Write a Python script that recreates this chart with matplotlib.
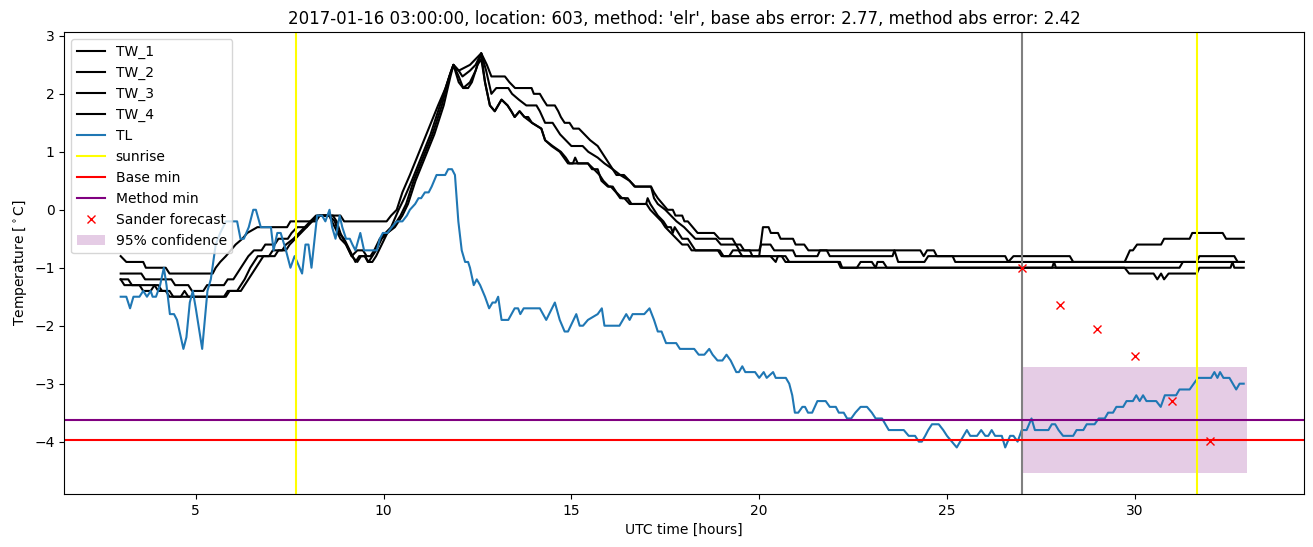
import matplotlib
matplotlib.use("Agg")
import matplotlib.pyplot as plt

# TW sensors: (hour, value) pairs
tw1_h = [3.0, 3.15, 3.6, 3.67, 4.2, 4.3, 5.45, 5.53, 5.65, 5.8, 5.93, 6.06, 6.24, 6.37, 6.64, 7.43, 7.52, 8.2, 8.3, 8.85,
         8.95, 10.08, 10.2, 10.35, 10.5, 10.7, 10.95, 11.2, 11.45, 11.65, 11.8, 11.86, 12.0, 12.3, 12.45, 12.6, 12.75,
         12.87, 13.23, 13.35, 13.5, 13.94, 14.0, 14.16, 14.25, 14.35, 14.56, 14.65, 14.72, 14.82, 14.95, 15.05, 15.2,
         15.35, 15.5, 15.7, 15.8, 15.9, 16.0, 16.1, 16.2, 16.4, 16.55, 16.68, 17.12, 17.2, 17.3, 17.43, 17.56, 17.7,
         17.77, 17.95, 18.01, 18.1, 18.23, 18.36, 18.8, 18.94, 19.29, 19.38, 19.5, 19.6, 19.75, 19.82, 20.0, 20.1,
         20.25, 20.31, 20.5, 20.57, 20.9, 20.97, 21.2, 21.31, 24.29, 24.38, 24.47, 24.65, 24.73, 26.55, 26.63, 26.77,
         28.27, 28.36, 29.73, 29.87, 29.95, 30.06, 30.7, 30.78, 31.46, 31.53, 32.34, 32.43, 32.9]
tw1_v = [-0.8, -0.9, -0.9, -1.0, -1.0, -1.1, -1.1, -1.0, -0.9, -0.8, -0.7, -0.6, -0.5, -0.4, -0.3, -0.3, -0.2, -0.2, -0.1, -0.1,
         -0.2, -0.2, -0.1, 0.0, 0.3, 0.6, 1.0, 1.4, 1.8, 2.1, 2.4, 2.5, 2.4, 2.5, 2.6, 2.7, 2.5,
         2.3, 2.3, 2.2, 2.1, 2.1, 2.0, 2.0, 1.9, 1.8, 1.8, 1.7, 1.6, 1.5, 1.5, 1.4, 1.4,
         1.3, 1.2, 1.1, 1.0, 0.9, 0.8, 0.7, 0.6, 0.6, 0.5, 0.4, 0.4, 0.3, 0.2, 0.1, 0.0, 0.0,
         -0.1, -0.1, -0.2, -0.2, -0.3, -0.4, -0.4, -0.5, -0.5, -0.6, -0.6, -0.7, -0.7, -0.8, -0.8, -0.3,
         -0.3, -0.4, -0.4, -0.5, -0.5, -0.6, -0.6, -0.7, -0.7, -0.8, -0.7, -0.7, -0.8, -0.8, -0.9, -0.8,
         -0.8, -0.9, -0.9, -0.7, -0.7, -0.6, -0.6, -0.5, -0.5, -0.4, -0.4, -0.5, -0.5]

tw2_h = [3.0, 3.55, 3.65, 4.35, 4.45, 4.8, 4.9, 5.2, 5.3, 5.75, 5.85, 6.0, 6.1, 6.2, 6.3, 6.4, 6.55, 6.75, 6.85, 7.1,
         7.2, 7.45, 7.55, 7.7, 7.95, 8.05, 8.2, 8.65, 8.75, 8.85, 9.0, 9.15, 9.3, 9.45, 9.55, 9.65, 9.75, 9.9, 10.05,
         10.2, 10.4, 10.55, 10.75, 11.0, 11.25, 11.5, 11.7, 11.86, 12.0, 12.1, 12.3, 12.45, 12.6, 12.73, 12.87, 13.0,
         13.32, 13.42, 13.6, 13.8, 14.07, 14.16, 14.3, 14.5, 14.6, 14.7, 14.85, 15.0, 15.3, 15.45, 15.7, 15.88, 16.1,
         16.3, 16.55, 16.7, 17.12, 17.2, 17.3, 17.5, 17.65, 17.8, 18.0, 18.15, 18.3, 18.85, 18.98, 19.38, 19.47, 20.0,
         20.05, 20.3, 20.4, 20.9, 20.97, 21.55, 21.62, 21.8, 21.88, 23.55, 23.6, 23.65, 23.7, 24.4, 24.5, 25.15, 25.22,
         31.65, 31.72, 32.65, 32.74, 32.9]
tw2_v = [-1.1, -1.1, -1.2, -1.2, -1.3, -1.3, -1.4, -1.4, -1.3, -1.3, -1.2, -1.2, -1.1, -1.0, -0.9, -0.8, -0.7, -0.7, -0.6, -0.6,
         -0.5, -0.5, -0.4, -0.3, -0.3, -0.2, -0.1, -0.1, -0.2, -0.4, -0.6, -0.8, -0.7, -0.7, -0.8, -0.8, -0.7, -0.5, -0.4,
         -0.3, 0.0, 0.2, 0.5, 0.9, 1.3, 1.8, 2.2, 2.5, 2.4, 2.3, 2.4, 2.5, 2.7, 2.4, 2.0, 2.1,
         2.1, 2.0, 1.9, 1.8, 1.8, 1.7, 1.5, 1.5, 1.4, 1.3, 1.2, 1.1, 1.1, 1.0, 0.9, 0.8, 0.7,
         0.6, 0.5, 0.4, 0.4, 0.2, 0.1, 0.0, -0.1, -0.2, -0.3, -0.4, -0.5, -0.5, -0.6, -0.6, -0.7, -0.7,
         -0.6, -0.6, -0.7, -0.7, -0.8, -0.8, -0.7, -0.7, -0.8, -0.8, -0.7, -0.8, -0.9, -0.9, -0.8, -0.8, -0.9,
         -0.9, -0.8, -0.8, -0.9, -0.9]

tw3_h = [3.0, 3.2, 3.3, 4.0, 4.1, 4.3, 4.4, 5.75, 5.85, 6.1, 6.2, 6.3, 6.45, 6.55, 6.65, 6.95, 7.05, 7.3, 7.4, 7.6,
         7.75, 7.9, 8.05, 8.25, 8.55, 8.7, 8.8, 8.95, 9.1, 9.25, 9.35, 9.5, 9.6, 9.7, 9.8, 9.95, 10.1, 10.25, 10.45,
         10.6, 10.8, 11.05, 11.3, 11.55, 11.75, 11.86, 12.0, 12.12, 12.3, 12.45, 12.6, 12.7, 12.83, 12.96, 13.14, 13.3,
         13.4, 13.49, 13.62, 13.75, 13.85, 13.95, 14.2, 14.3, 14.47, 14.69, 14.8, 14.91, 15.04, 15.1, 15.17, 15.44,
         15.55, 15.7, 15.8, 15.97, 16.05, 16.19, 16.3, 16.41, 16.55, 16.99, 17.03, 17.1, 17.2, 17.3, 17.45, 17.55,
         17.65, 17.7, 17.75, 17.85, 17.95, 18.1, 18.2, 18.3, 18.95, 19.05, 19.2, 19.3, 19.45, 19.55, 20.3, 20.44,
         20.5, 20.6, 20.7, 22.1, 22.17, 22.6, 22.7, 23.0, 23.1, 23.15, 23.3, 23.4, 29.73, 29.85, 30.5, 30.6, 30.7,
         30.78, 30.9, 31.65, 31.72, 32.55, 32.6, 32.65, 32.9]
tw3_v = [-1.2, -1.2, -1.3, -1.3, -1.4, -1.4, -1.5, -1.5, -1.4, -1.4, -1.3, -1.2, -1.0, -0.9, -0.8, -0.8, -0.7, -0.7, -0.6, -0.5,
         -0.4, -0.3, -0.2, -0.1, -0.1, -0.2, -0.4, -0.5, -0.7, -0.9, -0.8, -0.8, -0.9, -0.8, -0.7, -0.5, -0.4, -0.3, -0.1,
         0.1, 0.5, 0.9, 1.3, 1.8, 2.3, 2.5, 2.3, 2.1, 2.2, 2.4, 2.7, 2.2, 1.8, 1.7, 1.9, 1.8,
         1.7, 1.6, 1.7, 1.6, 1.6, 1.5, 1.4, 1.2, 1.1, 1.0, 0.9, 0.8, 0.8, 0.9, 0.8, 0.8,
         0.7, 0.7, 0.5, 0.4, 0.4, 0.3, 0.2, 0.2, 0.1, 0.1, 0.2, 0.1, 0.0, -0.1, -0.2, -0.3,
         -0.3, -0.4, -0.3, -0.4, -0.5, -0.5, -0.6, -0.7, -0.7, -0.8, -0.8, -0.7, -0.7, -0.8, -0.8, -0.9,
         -0.8, -0.8, -0.9, -0.9, -1.0, -1.0, -0.9, -0.9, -1.0, -0.9, -0.9, -1.0, -1.0, -1.1, -1.1, -1.2, -1.1,
         -1.2, -1.1, -1.1, -1.0, -1.0, -0.9, -1.0, -1.0]

tw4_h = [3.0, 3.1, 3.5, 3.6, 3.8, 3.9, 4.0, 4.2, 4.3, 4.6, 4.7, 4.8, 5.8, 5.9, 6.2, 6.3, 6.4, 6.5, 6.6, 6.7,
         6.8, 7.1, 7.2, 7.4, 7.5, 7.65, 7.8, 7.95, 8.1, 8.3, 8.55, 8.7, 8.85, 9.0, 9.15, 9.3, 9.4, 9.5, 9.58, 9.7,
         9.8, 9.95, 10.1, 10.3, 10.5, 10.65, 10.85, 11.1, 11.35, 11.6, 11.78, 11.86, 12.0, 12.12, 12.25, 12.35, 12.5,
         12.6, 12.7, 12.83, 12.96, 13.14, 13.3, 13.4, 13.49, 13.62, 13.75, 13.95, 14.2, 14.3, 14.5, 14.72, 14.85,
         14.95, 15.44, 15.6, 15.75, 15.85, 16.0, 16.1, 16.2, 16.35, 16.5, 16.6, 17.0, 17.1, 17.25, 17.4, 17.5, 17.65,
         17.8, 17.95, 18.1, 18.2, 18.9, 19.0, 20.7, 20.8, 22.15, 22.21, 27.8, 27.85, 27.9, 31.19, 31.28, 32.9]
tw4_v = [-1.2, -1.3, -1.3, -1.4, -1.4, -1.3, -1.4, -1.4, -1.5, -1.5, -1.4, -1.5, -1.5, -1.4, -1.4, -1.3, -1.2, -1.1, -1.0, -0.9,
         -0.8, -0.8, -0.7, -0.7, -0.6, -0.5, -0.4, -0.3, -0.2, -0.1, -0.1, -0.3, -0.5, -0.6, -0.8, -0.9, -0.8, -0.8, -0.9, -0.9,
         -0.8, -0.6, -0.4, -0.3, -0.1, 0.1, 0.5, 0.9, 1.3, 1.8, 2.3, 2.5, 2.2, 2.1, 2.1, 2.2, 2.5,
         2.6, 2.2, 1.8, 1.7, 1.9, 1.8, 1.7, 1.6, 1.7, 1.6, 1.5, 1.4, 1.2, 1.1, 1.0, 0.9,
         0.8, 0.8, 0.7, 0.6, 0.5, 0.4, 0.4, 0.3, 0.2, 0.2, 0.1, 0.1, 0.0, -0.1, -0.2, -0.3, -0.4,
         -0.5, -0.6, -0.6, -0.7, -0.7, -0.8, -0.8, -0.9, -0.9, -1.0, -1.0, -0.9, -1.0, -1.0, -0.9, -0.9]

# TL (air temperature)
tl_h = [3.0, 3.15, 3.25, 3.34, 3.5, 3.6, 3.7, 3.8, 3.85, 3.94, 4.05, 4.15, 4.22, 4.31, 4.42, 4.5, 4.67, 4.75, 4.84, 4.92,
        5.0, 5.17, 5.31, 5.4, 5.53, 5.65, 5.8, 6.1, 6.19, 6.28, 6.41, 6.53, 6.6, 6.73, 6.9, 7.0, 7.07, 7.17, 7.26, 7.4,
        7.52, 7.63, 7.7, 7.83, 7.92, 8.0, 8.08, 8.23, 8.36, 8.45, 8.56, 8.63, 8.72, 8.83, 8.9, 9.0, 9.1, 9.17, 9.25,
        9.38, 9.48, 9.57, 9.82, 9.9, 9.98, 10.1, 10.22, 10.35, 10.5, 10.62, 10.7, 10.84, 10.93, 11.0, 11.1, 11.2,
        11.28, 11.41, 11.64, 11.72, 11.82, 11.9, 11.99, 12.08, 12.17, 12.25, 12.3, 12.4, 12.48, 12.57, 12.7, 12.81,
        12.9, 12.98, 13.05, 13.14, 13.32, 13.49, 13.58, 13.64, 13.73, 14.16, 14.33, 14.56, 14.69, 14.82, 14.91,
        15.13, 15.22, 15.31, 15.44, 15.7, 15.81, 15.88, 16.28, 16.46, 16.55, 16.63, 16.94, 17.08, 17.2, 17.3, 17.4,
        17.52, 17.79, 17.89, 18.27, 18.39, 18.54, 18.67, 18.76, 18.89, 19.02, 19.13, 19.24, 19.39, 19.46, 19.55,
        19.63, 19.89, 20.0, 20.12, 20.2, 20.37, 20.44, 20.71, 20.8, 20.88, 20.95, 21.04, 21.15, 21.22, 21.3, 21.41,
        21.55, 21.77, 21.88, 22.04, 22.12, 22.25, 22.34, 22.45, 22.56, 22.7, 22.87, 23.0, 23.1, 23.27, 23.45, 23.85,
        23.98, 24.15, 24.25, 24.33, 24.42, 24.5, 24.6, 24.78, 24.9, 25.0, 25.13, 25.26, 25.35, 25.53, 25.62, 25.8,
        25.91, 26.02, 26.1, 26.19, 26.28, 26.46, 26.55, 26.68, 26.77, 26.88, 26.99, 27.12, 27.25, 27.34, 27.7, 27.79,
        27.88, 27.97, 28.09, 28.36, 28.45, 28.63, 28.72, 28.93, 29.04, 29.2, 29.29, 29.42, 29.51, 29.69, 29.78, 29.95,
        30.04, 30.13, 30.22, 30.31, 30.57, 30.69, 30.8, 31.1, 31.19, 31.46, 31.57, 31.68, 32.03, 32.12, 32.2, 32.27,
        32.36, 32.52, 32.7, 32.79, 32.9]
tl_v = [-1.5, -1.5, -1.7, -1.5, -1.5, -1.4, -1.5, -1.4, -1.5, -1.5, -1.3, -1.0, -1.3, -1.8, -1.8, -1.9, -2.4, -2.2, -1.6, -1.4,
        -1.7, -2.4, -1.4, -1.2, -0.6, -0.4, -0.2, -0.2, -0.5, -0.5, -0.3, 0.0, 0.0, -0.3, -0.3, -0.3, -0.7, -0.4, -0.4, -0.7,
        -1.0, -0.8, -0.9, -1.1, -0.6, -0.6, -1.0, -0.1, -0.1, -0.2, 0.0, -0.3, -0.5, -0.1, -0.3, -0.5, -0.5, -0.6, -0.7,
        -0.4, -0.7, -0.7, -0.7, -0.5, -0.4, -0.4, -0.3, -0.2, -0.2, -0.1, 0.0, 0.1, 0.2, 0.2, 0.3, 0.3,
        0.4, 0.6, 0.6, 0.7, 0.7, 0.6, -0.2, -0.7, -0.9, -0.9, -1.0, -1.3, -1.2, -1.3, -1.5, -1.7,
        -1.6, -1.6, -1.5, -1.9, -1.9, -1.7, -1.7, -1.8, -1.7, -1.7, -1.9, -1.6, -1.9, -2.1, -2.1,
        -1.8, -2.0, -2.0, -1.9, -1.8, -1.7, -2.0, -2.0, -1.8, -1.9, -1.8, -1.8, -1.7, -1.9, -2.1, -2.1,
        -2.3, -2.3, -2.4, -2.4, -2.5, -2.5, -2.4, -2.5, -2.6, -2.6, -2.5, -2.6, -2.8, -2.8, -2.7,
        -2.8, -2.8, -2.9, -2.8, -2.9, -2.8, -2.9, -2.9, -3.0, -3.2, -3.5, -3.5, -3.4, -3.4, -3.5, -3.5,
        -3.3, -3.3, -3.4, -3.4, -3.5, -3.5, -3.6, -3.6, -3.5, -3.4, -3.4, -3.5, -3.6, -3.6, -3.8, -3.8,
        -3.9, -3.9, -4.0, -4.0, -3.9, -3.8, -3.7, -3.7, -3.8, -3.9, -4.0, -4.1, -4.0, -3.8, -3.9, -3.9,
        -3.8, -3.9, -3.9, -3.8, -3.9, -3.9, -4.1, -3.9, -3.9, -4.0, -3.8, -3.8, -3.6, -3.8, -3.8, -3.7,
        -3.7, -3.8, -3.9, -3.9, -3.8, -3.8, -3.7, -3.7, -3.6, -3.6, -3.5, -3.5, -3.4, -3.4, -3.3, -3.3,
        -3.2, -3.3, -3.2, -3.3, -3.3, -3.4, -3.2, -3.2, -3.1, -3.1, -3.0, -2.9, -2.9, -2.8, -2.9, -2.8,
        -2.9, -2.9, -3.1, -3.0, -3.0]

sunrise = [7.68, 31.65]
forecast_time = 27
base_min = -3.97
method_min = -3.62
sander_h = [27, 28, 29, 30, 31, 32]
sander_v = [-1.0, -1.65, -2.05, -2.53, -3.3, -3.99]
conf_h = [27, 33]
conf_low = -4.54
conf_high = -2.71

fig, ax = plt.subplots(figsize=(13.13, 5.47), dpi=100)
fig.subplots_adjust(left=0.049, right=0.993, top=0.941, bottom=0.097)

ax.plot(tw1_h, tw1_v, color="black", label="TW_1")
ax.plot(tw2_h, tw2_v, color="black", label="TW_2")
ax.plot(tw3_h, tw3_v, color="black", label="TW_3")
ax.plot(tw4_h, tw4_v, color="black", label="TW_4")
ax.plot(tl_h, tl_v, color="tab:blue", label="TL")
ax.axvline(sunrise[0], color="yellow", label="sunrise")
ax.axvline(sunrise[1], color="yellow")
ax.axvline(forecast_time, color="grey")
ax.axhline(base_min, color="red", label="Base min")
ax.axhline(method_min, color="purple", label="Method min")
ax.plot(sander_h, sander_v, "rx", label="Sander forecast")
ax.fill_between(conf_h, conf_low, conf_high, color="purple", alpha=0.2, linewidth=0, label="95% confidence")

ax.set_title("2017-01-16 03:00:00, location: 603, method: 'elr', base abs error: 2.77, method abs error: 2.42")
ax.set_xlabel("UTC time [hours]")
ax.set_ylabel(r"Temperature [$^\circ$C]")
ax.legend(loc="upper left")

plt.savefig("out.png")
